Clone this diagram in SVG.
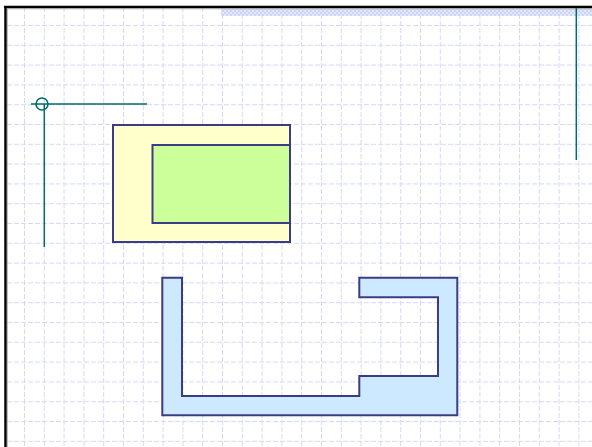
<svg xmlns="http://www.w3.org/2000/svg" width="592" height="447" viewBox="0 0 592 447">
<style>
.grid{stroke:#d3daf8;stroke-width:1;stroke-dasharray:5,2;fill:none}
.shape{stroke:#3c3c86;stroke-width:2;stroke-linejoin:miter}
.guide{stroke:#006b6b;stroke-width:1.5;fill:none}
</style>
<defs>
<pattern id="gv" x="24" y="0" width="19.8" height="7" patternUnits="userSpaceOnUse">
<line x1="0.5" y1="0" x2="0.5" y2="5" stroke="#d3daf8" stroke-width="1"/>
</pattern>
<pattern id="gh" x="0" y="25" width="7" height="19.8" patternUnits="userSpaceOnUse">
<line x1="0" y1="0.5" x2="5" y2="0.5" stroke="#d3daf8" stroke-width="1"/>
</pattern>
<pattern id="chk" x="0" y="0" width="4" height="4" patternUnits="userSpaceOnUse">
<rect width="4" height="4" fill="#e4eafc"/>
<rect width="2" height="2" fill="#c9d4f7"/>
<rect x="2" y="2" width="2" height="2" fill="#c9d4f7"/>
</pattern>
</defs>
<rect width="592" height="447" fill="#ffffff"/>
<g id="grid">
<rect x="7" y="8" width="585" height="439" fill="url(#gv)"/>
<rect x="7" y="8" width="585" height="439" fill="url(#gh)"/>
</g>
<rect id="band" x="221" y="9" width="371" height="7" fill="url(#chk)"/>
<g id="frame">
<line x1="5.5" y1="6" x2="5.5" y2="447" stroke="#000" stroke-width="2.5"/>
<line x1="4" y1="7" x2="592" y2="7" stroke="#000" stroke-width="2.5"/>
<line x1="7.3" y1="9" x2="7.3" y2="447" stroke="#999" stroke-width="0.8"/>
<line x1="7" y1="8.8" x2="592" y2="8.8" stroke="#999" stroke-width="0.8"/>
</g>
<g id="outer-rect">
<rect class="shape" x="113" y="125" width="177" height="117" fill="#ffffcc"/>
</g>
<g id="inner-rect">
<rect class="shape" x="152.5" y="145" width="137.5" height="78" fill="#ccff99"/>
</g>
<g id="channel">
<path class="shape" fill="#cce9ff" d="M162.3,277.7 H182 V396 H359.3 V376 H438 V297.3 H359.3 V277.7 H457.3 V415.3 H162.3 Z"/>
</g>
<g id="connectors">
<line class="guide" x1="31" y1="104" x2="147" y2="104"/>
<line class="guide" x1="44.3" y1="104" x2="44.3" y2="247"/>
<circle class="guide" cx="42" cy="104" r="6"/>
<line class="guide" x1="576.3" y1="8" x2="576.3" y2="160"/>
</g>
</svg>
